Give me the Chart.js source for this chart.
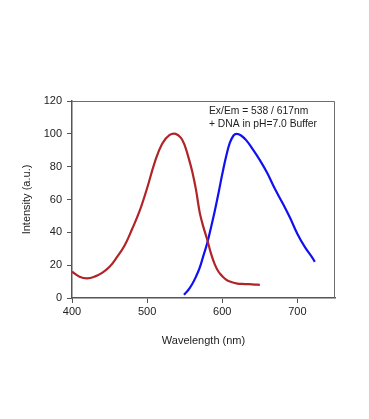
<!DOCTYPE html>
<html>
<head>
<meta charset="utf-8">
<script src="https://cdn.jsdelivr.net/npm/chart.js@4"></script>
<style>
  html, body { margin: 0; padding: 0; background: #fff; }
  #wrap { width: 369px; height: 419px; }
</style>
</head>
<body>
<div id="wrap"><canvas id="chart" width="369" height="419"></canvas></div>
<script>
// Excitation spectrum (red)
const exWavelength = [400, 410, 420, 430, 440, 450, 460, 470, 480, 490, 500, 510, 520, 530, 538, 545, 550, 556, 560, 565, 570, 575, 580, 585, 590, 595, 600, 605, 610, 620, 630, 640, 650];
const exIntensity  = [16, 13, 12, 13, 15.3, 19, 25, 32, 42, 53, 67, 82.5, 94, 99.3, 100, 97.5, 93, 84, 77, 66, 52, 43, 35.5, 27, 20.5, 16, 13.3, 11.2, 10, 8.8, 8.5, 8.3, 8];

// Emission spectrum (blue)
const emWavelength = [549, 555, 560, 565, 570, 575, 580, 585, 590, 595, 600, 605, 610, 615, 619, 625, 632, 640, 650, 660, 670, 680, 690, 700, 710, 720, 723];
const emIntensity  = [2, 5, 8.5, 13, 18.5, 26, 33.5, 43, 53, 64, 75.5, 86, 94.5, 99, 100, 99, 96, 91, 84, 76, 66.5, 58, 49, 39, 31, 24.5, 22];

const xTicks = [400, 500, 600, 700];
const yTicks = [0, 20, 40, 60, 80, 100, 120];

const toPoints = (xs, ys) => xs.map((x, i) => ({ x: x, y: ys[i] }));

// Box around the plot area (top/right edges) + annotation text
const frame = {
    id: 'frame',
    afterDraw(chart) {
        const a = chart.chartArea;
        const ctx = chart.ctx;
        ctx.save();
        ctx.strokeStyle = '#6e6e6e';
        ctx.lineWidth = 1;
        ctx.beginPath();
        ctx.moveTo(a.left, a.top + 0.5);
        ctx.lineTo(a.right - 0.5, a.top + 0.5);
        ctx.lineTo(a.right - 0.5, a.bottom);
        ctx.stroke();
        ctx.fillStyle = '#222';
        ctx.font = '10.3px "Liberation Sans", Arial, sans-serif';
        ctx.textBaseline = 'middle';
        ctx.fillText('Ex/Em = 538 / 617nm', 209, 111);
        ctx.fillText('+ DNA in pH=7.0 Buffer', 209, 124);
        ctx.restore();
    }
};

const font = { family: '"Liberation Sans", Arial, sans-serif', size: 11 };

new Chart(document.getElementById('chart'), {
    type: 'line',
    data: {
        datasets: [{
            label: 'Excitation',
            data: toPoints(exWavelength, exIntensity),
            borderColor: '#b02428',
            borderWidth: 2.2,
            pointRadius: 0,
            tension: 0.4
        }, {
            label: 'Emission',
            data: toPoints(emWavelength, emIntensity),
            borderColor: '#1010f0',
            borderWidth: 2.2,
            pointRadius: 0,
            tension: 0.4
        }]
    },
    options: {
        responsive: false,
        animation: false,
        layout: { padding: { left: 0, right: 34, top: 101, bottom: 71 } },
        plugins: { legend: { display: false }, tooltip: { enabled: false } },
        scales: {
            x: {
                type: 'linear',
                min: 400,
                max: 750,
                afterFit: s => { s.height = 50; },
                afterBuildTicks: s => { s.ticks = xTicks.map(v => ({ value: v })); },
                border: { color: '#555', width: 1.5 },
                grid: { drawOnChartArea: false, tickLength: 5, color: '#555' },
                ticks: { color: '#222', font: font, padding: 2 },
                title: {
                    display: true,
                    text: 'Wavelength (nm)',
                    color: '#222',
                    font: font,
                    padding: { top: 0, bottom: 0 }
                }
            },
            y: {
                min: 0,
                max: 120,
                afterFit: s => { s.width = 72; },
                afterBuildTicks: s => { s.ticks = yTicks.map(v => ({ value: v })); },
                border: { color: '#555', width: 1.5 },
                grid: { drawOnChartArea: false, tickLength: 5, color: '#555' },
                ticks: { color: '#222', font: font, padding: 5 },
                title: {
                    display: true,
                    text: 'Intensity (a.u.)',
                    color: '#222',
                    font: font,
                    padding: { top: 20, bottom: 0 }
                }
            }
        }
    },
    plugins: [frame]
});
</script>
</body>
</html>
